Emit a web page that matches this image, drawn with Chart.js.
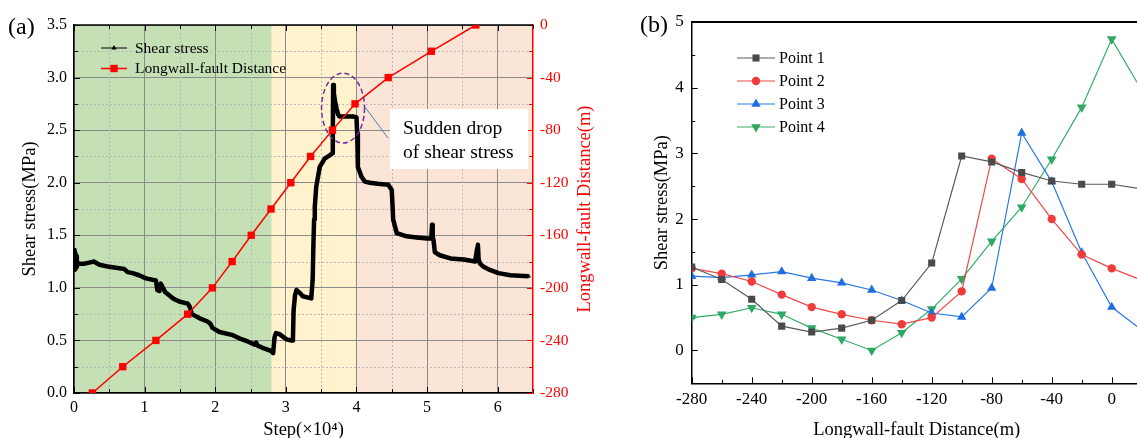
<!DOCTYPE html>
<html>
<head>
<meta charset="utf-8">
<script src="https://cdn.jsdelivr.net/npm/chart.js@4.4.0/dist/chart.umd.min.js"></script>
<style>
	html, body { margin: 0; padding: 0; background: #fff; overflow: hidden; }
	body { width: 1137px; height: 438px; position: relative; }
	#stepChart { position: absolute; left: 0; top: 0; }
	#distChart { position: absolute; left: 620px; top: 0; }
</style>
</head>
<body>
<canvas id="stepChart" width="600" height="438"></canvas>
<canvas id="distChart" width="560" height="438"></canvas>
<script>
// (a) shear stress against calculation step (x 10^4)
const shearSteps = [
	0.00, 0.005, 0.01, 0.015, 0.02, 0.03, 0.04, 0.05, 0.07, 0.15,
	0.28, 0.36, 0.50, 0.71, 0.76, 0.83, 0.92, 1.02, 1.16, 1.18,
	1.21, 1.23, 1.26, 1.29, 1.40, 1.49, 1.61, 1.64, 1.67, 1.78,
	1.89, 1.93, 1.96, 2.06, 2.25, 2.34, 2.46, 2.56, 2.58, 2.60,
	2.67, 2.79, 2.82, 2.84, 2.86, 2.91, 3.01, 3.08, 3.10, 3.11,
	3.13, 3.15, 3.20, 3.24, 3.36, 3.38, 3.39, 3.40, 3.41, 3.43,
	3.48, 3.55, 3.62, 3.66, 3.665, 3.67, 3.68, 3.70, 3.72, 3.74,
	3.76, 3.85, 3.95, 4.00, 4.01, 4.02, 4.07, 4.12, 4.19, 4.30,
	4.45, 4.50, 4.52, 4.57, 4.71, 4.85, 5.00, 5.06, 5.07, 5.08,
	5.09, 5.11, 5.18, 5.33, 5.52, 5.68, 5.71, 5.72, 5.73, 5.75,
	5.80, 5.89, 6.01, 6.18, 6.44
];
const shearValues = [
	1.17, 1.36, 1.21, 1.33, 1.18, 1.30, 1.20, 1.24, 1.23, 1.23,
	1.25, 1.22, 1.20, 1.18, 1.15, 1.14, 1.12, 1.09, 1.07, 0.98,
	0.97, 1.04, 1.00, 0.96, 0.90, 0.87, 0.85, 0.82, 0.75, 0.71,
	0.68, 0.66, 0.62, 0.58, 0.55, 0.52, 0.49, 0.46, 0.48, 0.45,
	0.43, 0.40, 0.38, 0.53, 0.57, 0.56, 0.51, 0.50, 0.50, 0.79,
	0.93, 0.98, 0.95, 0.92, 0.90, 1.08, 1.40, 1.65, 1.77, 1.96,
	2.15, 2.23, 2.26, 2.28, 2.45, 2.93, 2.85, 2.76, 2.70, 2.65,
	2.63, 2.63, 2.63, 2.62, 2.47, 2.15, 2.06, 2.01, 2.00, 1.99,
	1.98, 1.93, 1.65, 1.52, 1.49, 1.48, 1.47, 1.47, 1.60, 1.48,
	1.46, 1.34, 1.31, 1.28, 1.27, 1.25, 1.38, 1.41, 1.27, 1.23,
	1.20, 1.17, 1.14, 1.12, 1.11
];

// (a) longwall-fault distance reached at each step
const advanceSteps = [0.26, 0.69, 1.16, 1.61, 1.96, 2.24, 2.51, 2.79, 3.07, 3.35, 3.66, 3.98, 4.45, 5.06, 5.69];
const faultDistances = [-280, -260, -240, -220, -200, -180, -160, -140, -120, -100, -80, -60, -40, -20, 0];

// (a) mining zones along the step axis
const zoneEdges = [0, 2.8, 4.0, 6.5];

// (a) the drop note sits around this point (step, MPa)
const dropNoteAt = {x: 3.81, y: 2.71};
const dropNoteLines = ["Sudden drop", "of shear stress"];

// (b) shear stress at the monitoring points
const pointDistances = [-280, -260, -240, -220, -200, -180, -160, -140, -120, -100, -80, -60, -40, -20, 0, 20];
const point1Stress = [1.27, 1.08, 0.78, 0.37, 0.28, 0.34, 0.46, 0.76, 1.33, 2.96, 2.87, 2.71, 2.58, 2.53, 2.53, 2.46];
const point2Stress = [1.25, 1.17, 1.05, 0.85, 0.66, 0.55, 0.46, 0.40, 0.50, 0.90, 2.92, 2.61, 2.00, 1.46, 1.25, 1.07];
const point3Stress = [1.13, 1.11, 1.15, 1.20, 1.10, 1.03, 0.92, 0.76, 0.57, 0.51, 0.95, 3.31, 2.57, 1.49, 0.66, 0.31];
const point4Stress = [0.50, 0.55, 0.65, 0.55, 0.34, 0.17, 0.00, 0.27, 0.63, 1.09, 1.66, 2.18, 2.91, 3.70, 4.74, 3.96];

const kFont = "'Liberation Serif', 'Times New Roman', serif";
const kZoneColors = ["#c5e0b4", "#fff2cc", "#fbe5d6"];
const kClear = "rgba(0,0,0,0)";

const isHalf = (v) => Math.abs(v * 2 - Math.round(v * 2)) < 1e-6;
const toPoints = (xs, ys) => xs.map((x, i) => ({x, y: ys[i]}));

function drawMarker(ctx, style, rotation, x, y, r, color) {
	ctx.save();
	ctx.fillStyle = color;
	ctx.beginPath();
	if (style === "rect") {
		const s = r * Math.SQRT1_2;
		ctx.rect(x - s, y - s, 2 * s, 2 * s);
	} else if (style === "circle") {
		ctx.arc(x, y, r, 0, Math.PI * 2);
	} else {
		const d = rotation === 180 ? -1 : 1;
		ctx.moveTo(x, y - d * r);
		ctx.lineTo(x + 0.866 * r, y + d * 0.5 * r);
		ctx.lineTo(x - 0.866 * r, y + d * 0.5 * r);
		ctx.closePath();
	}
	ctx.fill();
	ctx.restore();
}

// tick marks pointing into the plot, long for labelled ticks
function drawInnerTicks(ctx, scale, edge, area, color, major, minor) {
	ctx.save();
	ctx.strokeStyle = color;
	ctx.lineWidth = 1;
	for (const t of scale.ticks) {
		const p = Math.round(scale.getPixelForValue(t.value)) + 0.5;
		const len = t.label !== "" ? major : minor;
		ctx.beginPath();
		if (edge === "left") { ctx.moveTo(area.left, p); ctx.lineTo(area.left + len, p); }
		if (edge === "right") { ctx.moveTo(area.right, p); ctx.lineTo(area.right - len, p); }
		if (edge === "bottom") { ctx.moveTo(p, area.bottom); ctx.lineTo(p, area.bottom - len); }
		if (edge === "top") { ctx.moveTo(p, area.top); ctx.lineTo(p, area.top + len); }
		ctx.stroke();
	}
	ctx.restore();
}

function drawPanelTag(ctx, text, x, y) {
	ctx.save();
	ctx.fillStyle = "#000";
	ctx.font = `24px ${kFont}`;
	ctx.textBaseline = "middle";
	ctx.fillText(text, x, y);
	ctx.restore();
}

const stepDecor = {
	id: "stepDecor",
	beforeDraw(chart) {
		const {ctx, chartArea: a, scales: {x}} = chart;
		ctx.save();
		for (let i = 0; i < kZoneColors.length; ++i) {
			const x0 = x.getPixelForValue(zoneEdges[i]);
			const x1 = x.getPixelForValue(zoneEdges[i + 1]);
			ctx.fillStyle = kZoneColors[i];
			ctx.fillRect(x0, a.top, x1 - x0, a.bottom - a.top);
		}
		ctx.restore();
	},
	beforeDatasetsDraw(chart) {
		const {ctx, chartArea: a, scales: {x, y, y2}} = chart;
		// dotted minor grid
		ctx.save();
		ctx.strokeStyle = "#b8b8b8";
		ctx.lineWidth = 1;
		ctx.setLineDash([2, 2]);
		for (const t of x.ticks) {
			if (t.label !== "") continue;
			const p = Math.round(x.getPixelForValue(t.value)) + 0.5;
			if (p <= a.left + 1 || p >= a.right - 1) continue;
			ctx.beginPath(); ctx.moveTo(p, a.top); ctx.lineTo(p, a.bottom); ctx.stroke();
		}
		for (const t of y.ticks) {
			if (t.label !== "") continue;
			const p = Math.round(y.getPixelForValue(t.value)) + 0.5;
			ctx.beginPath(); ctx.moveTo(a.left, p); ctx.lineTo(a.right, p); ctx.stroke();
		}
		ctx.restore();

		drawInnerTicks(ctx, x, "bottom", a, "#000", 6, 4);
		drawInnerTicks(ctx, x, "top", a, "#000", 6, 4);
		drawInnerTicks(ctx, y, "left", a, "#000", 6, 4);
		drawInnerTicks(ctx, y2, "right", a, "#ff0000", 6, 4);

		ctx.save();
		ctx.strokeStyle = "#000";
		ctx.lineWidth = 1.5;
		ctx.beginPath(); ctx.moveTo(a.left, a.top); ctx.lineTo(a.right, a.top); ctx.stroke();
		ctx.restore();
	},
	afterDraw(chart) {
		const {ctx, chartArea: a, scales: {x, y}} = chart;
		const cx = x.getPixelForValue(dropNoteAt.x);
		const cy = y.getPixelForValue(dropNoteAt.y);

		ctx.save();
		ctx.strokeStyle = "#7030a0";
		ctx.lineWidth = 1.5;
		ctx.setLineDash([5, 3]);
		ctx.beginPath();
		ctx.ellipse(cx, cy, 21.5, 35, 0, 0, Math.PI * 2);
		ctx.stroke();
		ctx.setLineDash([]);

		ctx.strokeStyle = "#4a7ebb";
		ctx.lineWidth = 1;
		ctx.beginPath(); ctx.moveTo(cx + 22, cy - 1); ctx.lineTo(cx + 45, cy + 30); ctx.stroke();

		ctx.fillStyle = "#fff";
		ctx.fillRect(cx + 47, cy + 1, 138, 60);
		ctx.fillStyle = "#000";
		ctx.font = `19.5px ${kFont}`;
		ctx.textBaseline = "middle";
		ctx.fillText(dropNoteLines[0], cx + 60, cy + 21);
		ctx.fillText(dropNoteLines[1], cx + 60, cy + 45);

		// legend
		const rows = [48, 68.5];
		chart.data.datasets.slice().sort((p, q) => q.order - p.order).forEach((ds, i) => {
			ctx.strokeStyle = ds.borderColor;
			ctx.lineWidth = i === 0 ? 1 : 1.5;
			ctx.beginPath(); ctx.moveTo(101, rows[i]); ctx.lineTo(127, rows[i]); ctx.stroke();
			drawMarker(ctx, ds.pointStyle, 0, 114, rows[i], i === 0 ? 3 : 5.2, ds.borderColor);
			ctx.fillStyle = "#000";
			ctx.font = `15.5px ${kFont}`;
			ctx.fillText(ds.label, 135, rows[i] + 0.5);
		});

		// right axis title, read bottom to top
		ctx.translate(585, (a.top + a.bottom) / 2);
		ctx.rotate(-Math.PI / 2);
		ctx.textAlign = "center";
		ctx.fillStyle = "#ff0000";
		ctx.font = `18.5px ${kFont}`;
		ctx.fillText("Longwall-fault Distance(m)", 0, 0);
		ctx.restore();

		drawPanelTag(ctx, "(a)", 8, 27.5);
	}
};

new Chart(document.getElementById("stepChart").getContext("2d"), {
	type: "line",
	data: {
		datasets: [{
			label: "Shear stress",
			data: toPoints(shearSteps, shearValues),
			yAxisID: "y",
			order: 1,
			borderColor: "#000",
			backgroundColor: "#000",
			borderWidth: 4.5,
			borderJoinStyle: "round",
			pointStyle: "triangle",
			pointRadius: 2.5,
			pointBorderWidth: 0,
			tension: 0
		}, {
			label: "Longwall-fault Distance",
			data: toPoints(advanceSteps, faultDistances),
			yAxisID: "y2",
			order: 0,
			borderColor: "#ff0000",
			backgroundColor: "#ff0000",
			borderWidth: 1.5,
			pointStyle: "rect",
			pointRadius: 5.2,
			pointBorderWidth: 0,
			tension: 0
		}]
	},
	options: {
		responsive: false,
		animation: false,
		devicePixelRatio: 1,
		layout: {padding: {top: 25, left: 0, right: 0, bottom: 0}},
		plugins: {legend: {display: false}, tooltip: {enabled: false}},
		scales: {
			x: {
				type: "linear",
				min: 0,
				max: 6.5,
				afterFit: (s) => { s.height = 45; },
				ticks: {
					stepSize: 0.5, autoSkip: false, maxRotation: 0, padding: 5, color: "#000",
					font: {family: kFont, size: 16},
					callback: (v) => Number.isInteger(v) ? String(v) : ""
				},
				grid: {drawTicks: false, lineWidth: 1, color: (c) => c.tick && Number.isInteger(c.tick.value) ? "#8a8a8a" : kClear},
				border: {color: "#000", width: 1.5},
				title: {display: true, text: "Step(×10⁴)", color: "#000", font: {family: kFont, size: 18.5, lineHeight: 0.9}, padding: 0}
			},
			y: {
				position: "left",
				min: 0,
				max: 3.5,
				afterFit: (s) => { s.width = 74; },
				ticks: {
					stepSize: 0.25, autoSkip: false, padding: 7, color: "#000",
					font: {family: kFont, size: 16},
					callback: (v) => isHalf(v) ? v.toFixed(1) : ""
				},
				grid: {drawTicks: false, lineWidth: 1, color: (c) => c.tick && isHalf(c.tick.value) ? "#8a8a8a" : kClear},
				border: {color: "#000", width: 1.5},
				title: {display: true, text: "Shear stress(MPa)", color: "#000", font: {family: kFont, size: 18.5}, padding: {top: 19, bottom: 0}}
			},
			y2: {
				position: "right",
				min: -280,
				max: 0,
				afterFit: (s) => { s.width = 67; },
				ticks: {
					stepSize: 20, autoSkip: false, padding: 7, color: "#ff0000",
					font: {family: kFont, size: 15.5},
					callback: (v) => v % 40 === 0 ? String(v) : ""
				},
				grid: {drawOnChartArea: false, drawTicks: false},
				border: {color: "#ff0000", width: 1.5}
			}
		}
	},
	plugins: [stepDecor]
});

// (b)
const distDecor = {
	id: "distDecor",
	beforeDatasetsDraw(chart) {
		const {ctx, chartArea: a, scales: {x, y}} = chart;
		drawInnerTicks(ctx, x, "bottom", a, "#000", 6, 3.5);
		drawInnerTicks(ctx, y, "left", a, "#000", 6, 3.5);
		ctx.save();
		ctx.strokeStyle = "#000";
		ctx.lineWidth = 2;
		ctx.beginPath(); ctx.moveTo(a.left, a.top); ctx.lineTo(chart.width, a.top); ctx.stroke();
		ctx.restore();
	},
	afterDraw(chart) {
		const {ctx} = chart;
		const rows = [58, 81, 104, 127];
		ctx.save();
		chart.data.datasets.forEach((ds, i) => {
			ctx.strokeStyle = ds.borderColor;
			ctx.lineWidth = 1.2;
			ctx.beginPath(); ctx.moveTo(117, rows[i]); ctx.lineTo(155, rows[i]); ctx.stroke();
			drawMarker(ctx, ds.pointStyle, ds.rotation, 136, rows[i], ds.pointRadius, ds.backgroundColor);
			ctx.fillStyle = "#000";
			ctx.font = `16px ${kFont}`;
			ctx.textBaseline = "middle";
			ctx.fillText(ds.label, 159, rows[i] + 0.5);
		});
		ctx.restore();
		drawPanelTag(ctx, "(b)", 20, 26);
	}
};

const pointSeries = [
	{label: "Point 1", values: point1Stress, line: "#5a5a5a", mark: "#4a4a4a", style: "rect", r: 5, rot: 0},
	{label: "Point 2", values: point2Stress, line: "#f04848", mark: "#ef3b3b", style: "circle", r: 4.2, rot: 0},
	{label: "Point 3", values: point3Stress, line: "#2a78e4", mark: "#1e6ee0", style: "triangle", r: 5.4, rot: 0},
	{label: "Point 4", values: point4Stress, line: "#34ad66", mark: "#2ea862", style: "triangle", r: 5.6, rot: 180}
];

new Chart(document.getElementById("distChart").getContext("2d"), {
	type: "line",
	data: {
		datasets: pointSeries.map((p) => ({
			label: p.label,
			data: toPoints(pointDistances, p.values),
			borderColor: p.line,
			backgroundColor: p.mark,
			borderWidth: 1.2,
			pointStyle: p.style,
			pointRadius: p.r,
			pointRotation: p.rot,
			rotation: p.rot,
			pointBorderWidth: 0,
			tension: 0
		}))
	},
	options: {
		responsive: false,
		animation: false,
		devicePixelRatio: 1,
		layout: {padding: {top: 22, left: 0, right: 38.3, bottom: 0}},
		plugins: {legend: {display: false}, tooltip: {enabled: false}},
		scales: {
			x: {
				type: "linear",
				min: -280,
				max: 20,
				afterFit: (s) => { s.height = 54.7; },
				ticks: {
					stepSize: 20, autoSkip: false, maxRotation: 0, padding: 6.5, color: "#000",
					font: {family: kFont, size: 17},
					callback: (v) => v % 40 === 0 ? String(v) : ""
				},
				grid: {drawOnChartArea: false, drawTicks: false},
				border: {color: "#000", width: 1.5},
				title: {display: true, text: "Longwall-fault Distance(m)", color: "#000", font: {family: kFont, size: 18.5, lineHeight: 0.9}, padding: 0}
			},
			y: {
				min: -0.5,
				max: 5,
				afterFit: (s) => { s.width = 71.7; },
				ticks: {
					stepSize: 0.5, autoSkip: false, padding: 8, color: "#000",
					font: {family: kFont, size: 17},
					callback: (v) => Number.isInteger(v) ? String(v) : ""
				},
				grid: {drawOnChartArea: false, drawTicks: false},
				border: {color: "#000", width: 1.5},
				title: {display: true, text: "Shear stress(MPa)", color: "#000", font: {family: kFont, size: 18.5}, padding: {top: 31, bottom: 0}}
			}
		}
	},
	plugins: [distDecor]
});
</script>
</body>
</html>
